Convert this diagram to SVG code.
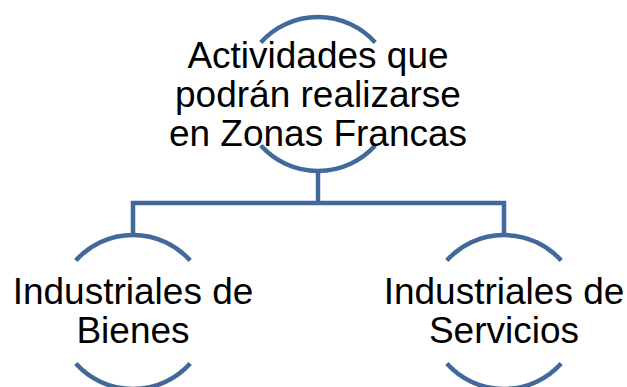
<svg xmlns="http://www.w3.org/2000/svg" width="627" height="387" viewBox="0 0 627 387">
<style>
.arc{fill:none;stroke:#41699B;stroke-width:4.5}
.con{fill:none;stroke:#41699B;stroke-width:4.5;stroke-linejoin:miter}
.t{font-family:"Liberation Sans",Arial,sans-serif;font-size:37px;fill:#000;text-anchor:middle}
</style>
<rect width="627" height="387" fill="#fff"/>
<g id="connectors">
<path class="con" d="M318,171 V203"/>
<path class="con" d="M133,235 V203 H504 V235"/>
</g>
<g id="node-top">
<path class="arc" d="M260.8,42.5 A77,77 0 0 1 375.2,42.5"/>
<path class="arc" d="M260.8,145.5 A77,77 0 0 0 375.2,145.5"/>
<text class="t" x="318" y="67.5">Actividades que</text>
<text class="t" x="318" y="106.5">podrán realizarse</text>
<text class="t" x="318" y="145.5">en Zonas Francas</text>
</g>
<g id="node-bienes">
<path class="arc" d="M75.8,260.5 A77,77 0 0 1 190.2,260.5"/>
<path class="arc" d="M75.8,363.5 A77,77 0 0 0 190.2,363.5"/>
<text class="t" x="133" y="303.5">Industriales de</text>
<text class="t" x="133" y="342.5">Bienes</text>
</g>
<g id="node-servicios">
<path class="arc" d="M446.8,260.5 A77,77 0 0 1 561.2,260.5"/>
<path class="arc" d="M446.8,363.5 A77,77 0 0 0 561.2,363.5"/>
<text class="t" x="504" y="303.5">Industriales de</text>
<text class="t" x="504" y="342.5">Servicios</text>
</g>
</svg>
